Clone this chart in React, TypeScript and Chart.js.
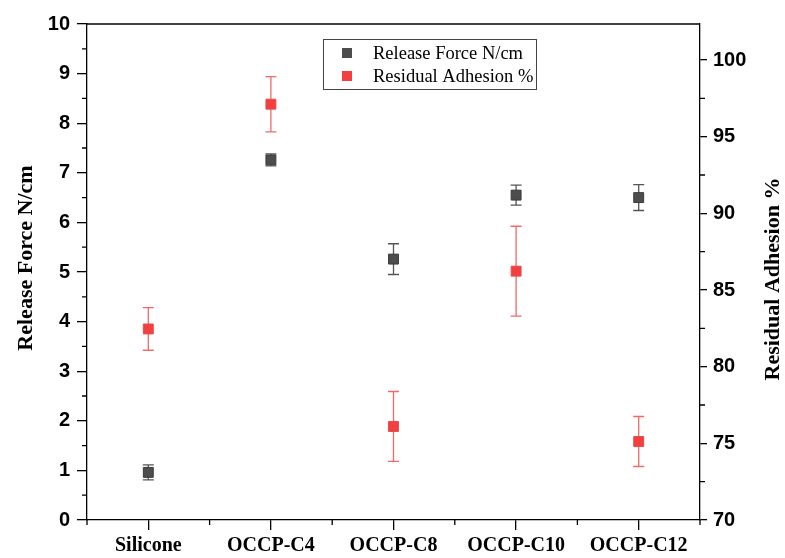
import React, { useEffect, useRef } from 'react';
import { Chart, registerables } from 'chart.js';
Chart.register(...registerables);

const categories = ['Silicone', 'OCCP-C4', 'OCCP-C8', 'OCCP-C10', 'OCCP-C12'];
const releaseForce = [0.96, 7.26, 5.26, 6.55, 6.5];
const releaseForceErr = [0.15, 0.12, 0.31, 0.2, 0.26];
const residualAdhesion = [82.46, 97.12, 76.1, 86.23, 75.12];
const residualAdhesionErr = [1.39, 1.8, 2.28, 2.93, 1.63];
const leftTicks = [0, 1, 2, 3, 4, 5, 6, 7, 8, 9, 10];
const rightTicks = [70, 75, 80, 85, 90, 95, 100];
const leftTitle = 'Release Force N/cm';
const rightTitle = 'Residual Adhesion %';

const GREY = '#4d4d4d';
const RED = '#f23f3f';

const customPlugin = {
  id: 'customDecor',
  beforeDatasetsDraw(chart: any) {
    const ctx = chart.ctx;
    const xs = chart.scales.x;
    const drawErr = (vals: number[], errs: number[], scale: any, color: string) => {
      ctx.save();
      ctx.strokeStyle = color;
      ctx.lineWidth = 1.3;
      vals.forEach((v, i) => {
        const px = xs.getPixelForValue(i);
        const top = scale.getPixelForValue(v + errs[i]);
        const bot = scale.getPixelForValue(v - errs[i]);
        ctx.beginPath();
        ctx.moveTo(px, top);
        ctx.lineTo(px, bot);
        ctx.moveTo(px - 5.5, top);
        ctx.lineTo(px + 5.5, top);
        ctx.moveTo(px - 5.5, bot);
        ctx.lineTo(px + 5.5, bot);
        ctx.stroke();
      });
      ctx.restore();
    };
    drawErr(releaseForce, releaseForceErr, chart.scales.y, '#555555');
    drawErr(residualAdhesion, residualAdhesionErr, chart.scales.y1, '#f06a6a');
  },
  afterDraw(chart: any) {
    const ctx = chart.ctx;
    const { left, right, top, bottom } = chart.chartArea;
    const xs = chart.scales.x;
    const y = chart.scales.y;
    const y1 = chart.scales.y1;
    ctx.save();
    ctx.strokeStyle = '#000';
    ctx.lineWidth = 1.3;
    // top frame line
    ctx.beginPath();
    ctx.moveTo(left, top);
    ctx.lineTo(right, top);
    ctx.stroke();
    // minor ticks
    ctx.beginPath();
    for (let i = 0; i < leftTicks.length - 1; i++) {
      const v = (leftTicks[i] + leftTicks[i + 1]) / 2;
      const py = y.getPixelForValue(v);
      ctx.moveTo(left, py);
      ctx.lineTo(left - 5, py);
    }
    for (let i = 0; i < rightTicks.length - 1; i++) {
      const v = (rightTicks[i] + rightTicks[i + 1]) / 2;
      const py = y1.getPixelForValue(v);
      ctx.moveTo(right, py);
      ctx.lineTo(right + 5, py);
    }
    for (let i = 0; i <= categories.length; i++) {
      const px = xs.getPixelForValue(i - 0.5);
      ctx.moveTo(px, bottom);
      ctx.lineTo(px, bottom + 5);
    }
    ctx.stroke();

    // axis titles
    ctx.fillStyle = '#000';
    ctx.font = 'bold 22px "Liberation Serif"';
    ctx.textAlign = 'center';
    ctx.textBaseline = 'middle';
    ctx.save();
    ctx.translate(26, 258);
    ctx.rotate(-Math.PI / 2);
    ctx.fillText(leftTitle, 0, 0);
    ctx.restore();
    ctx.save();
    ctx.translate(773, 279);
    ctx.rotate(-Math.PI / 2);
    ctx.fillText(rightTitle, 0, 0);
    ctx.restore();

    // legend
    ctx.strokeStyle = '#444';
    ctx.lineWidth = 1;
    ctx.strokeRect(323.5, 39.5, 213, 50);
    const items = [
      { label: leftTitle, color: GREY, y: 53 },
      { label: rightTitle, color: RED, y: 76 },
    ];
    ctx.font = '18.5px "Liberation Serif"';
    ctx.textAlign = 'left';
    items.forEach((it) => {
      ctx.fillStyle = it.color;
      ctx.fillRect(342, it.y - 5, 10, 10);
      ctx.fillStyle = '#000';
      ctx.fillText(it.label, 373, it.y + 1);
    });
    ctx.restore();
  },
};

export default function App() {
  const ref = useRef<HTMLCanvasElement>(null);
  useEffect(() => {
    const canvas = ref.current;
    if (!canvas) return;
    const chart = new Chart(canvas, {
      type: 'line',
      data: {
        labels: categories,
        datasets: [
          {
            label: leftTitle,
            data: releaseForce,
            yAxisID: 'y',
            showLine: false,
            pointStyle: 'rect',
            pointRadius: 7,
            pointBackgroundColor: GREY,
            pointBorderColor: '#3a3a3a',
            pointBorderWidth: 1,
          },
          {
            label: rightTitle,
            data: residualAdhesion,
            yAxisID: 'y1',
            showLine: false,
            pointStyle: 'rect',
            pointRadius: 7,
            pointBackgroundColor: RED,
            pointBorderColor: '#e84a4a',
            pointBorderWidth: 1,
          },
        ],
      },
      options: {
        responsive: false,
        animation: false,
        layout: { padding: { top: 24, left: 0, right: 0, bottom: 0 } },
        plugins: { legend: { display: false }, tooltip: { enabled: false } },
        scales: {
          x: {
            type: 'category',
            offset: true,
            grid: {
              offset: false,
              drawOnChartArea: false,
              drawTicks: true,
              tickLength: 10,
              color: '#000',
              tickColor: '#000',
              lineWidth: 1.3,
            },
            border: { display: true, color: '#000', width: 1.3 },
            ticks: {
              color: '#000',
              padding: 4,
              maxRotation: 0,
              autoSkip: false,
              font: { family: '"Liberation Serif"', size: 20, weight: 'bold' },
            },
            afterFit: (s: any) => {
              s.height = 38;
            },
          },
          y: {
            type: 'linear',
            position: 'left',
            min: 0,
            max: 10,
            afterBuildTicks: (s: any) => {
              s.ticks = leftTicks.map((v) => ({ value: v }));
            },
            grid: {
              drawOnChartArea: false,
              drawTicks: true,
              tickLength: 10,
              color: '#000',
              tickColor: '#000',
              lineWidth: 1.3,
            },
            border: { display: true, color: '#000', width: 1.3 },
            ticks: {
              color: '#000',
              padding: 7,
              font: { family: '"Liberation Sans"', size: 20, weight: 'bold' },
            },
            afterFit: (s: any) => {
              s.width = 87;
            },
          },
          y1: {
            type: 'linear',
            position: 'right',
            min: 70,
            max: 102.35,
            afterBuildTicks: (s: any) => {
              s.ticks = rightTicks.map((v) => ({ value: v }));
            },
            grid: {
              drawOnChartArea: false,
              drawTicks: true,
              tickLength: 7,
              color: '#000',
              tickColor: '#000',
              lineWidth: 1.3,
            },
            border: { display: true, color: '#000', width: 1.3 },
            ticks: {
              color: '#000',
              padding: 6,
              font: { family: '"Liberation Sans"', size: 20, weight: 'bold' },
            },
            afterFit: (s: any) => {
              s.width = 85;
            },
          },
        },
      },
      plugins: [customPlugin],
    } as any);
    return () => chart.destroy();
  }, []);
  return (
    <div style={{ position: 'fixed', left: 0, top: 0, width: 785, height: 558, background: '#fff' }}>
      <canvas ref={ref} width={785} height={558} style={{ display: 'block' }} />
    </div>
  );
}
